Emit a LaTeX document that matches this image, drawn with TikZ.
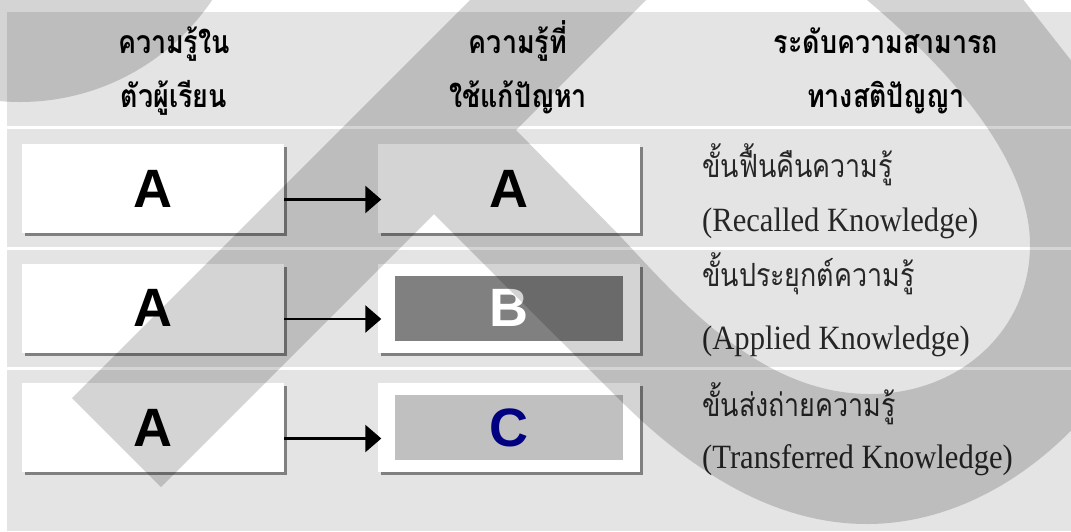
\documentclass[tikz,border=0pt]{standalone}
\usepackage{fontspec}
\usepackage{tikz}
\usetikzlibrary{arrows.meta}
\usetikzlibrary{shadows}
\newfontfamily\thaifont[Script=Thai,FakeStretch=0.84]{Loma}
\newfontfamily\engfont{Liberation Serif}[FakeStretch=0.9]
\newfontfamily\boxfont{Liberation Sans}
\definecolor{panel}{HTML}{E4E4E4}
\definecolor{shade}{HTML}{808080}
\definecolor{lightfill}{HTML}{C0C0C0}
\definecolor{navy}{HTML}{000080}
\tikzstyle{answerbox}=[rectangle, fill=white, inner sep=0pt, minimum width=262pt, minimum height=89pt, font=\boxfont\bfseries\fontsize{54}{60}\selectfont, drop shadow={shadow xshift=3pt, shadow yshift=-3pt, fill=shade, opacity=1}]
\tikzstyle{innerbox}=[rectangle, inner sep=0pt, minimum width=228pt, minimum height=65pt, font=\boxfont\bfseries\fontsize{54}{60}\selectfont]
\tikzstyle{colhead}=[inner sep=0pt, anchor=base, font=\thaifont\bfseries\fontsize{32}{36}\selectfont]
\tikzstyle{lvlthai}=[inner sep=0pt, anchor=base west, text=black!85, font=\thaifont\fontsize{32}{36}\selectfont]
\tikzstyle{lvleng}=[inner sep=0pt, anchor=base west, text=black!85, font=\engfont\fontsize{34}{40}\selectfont]
\tikzset{flow/.style={line width=2.5pt, -{Triangle[length=16pt,width=27pt]}}}

\begin{document}
\begin{tikzpicture}[x=1pt, y=-1pt]
		\useasboundingbox (0,0) rectangle (1071,531);
		\fill[white] (0,0) rectangle (1071,531);
		\fill[panel] (7,12) rectangle (1071,531);
		\foreach \y in {127.5,248,368.5}
			\draw[white, line width=3pt] (7,\y) -- (1071,\y);

		\node[colhead] (h1a) at (174,53) {ความรู้ใน};
		\node[colhead] (h1b) at (174,107) {ตัวผู้เรียน};
		\node[colhead] (h2a) at (518,53) {ความรู้ที่};
		\node[colhead] (h2b) at (518,107) {ใช้แก้ปัญหา};
		\node[colhead] (h3a) at (886,53) {ระดับความสามารถ};
		\node[colhead] (h3b) at (886,107) {ทางสติปัญญา};

		\node[answerbox] (a1) at (153,188.5) {A};
		\node[answerbox] (a2) at (153,308) {A};
		\node[answerbox] (a3) at (153,427.5) {A};
		\node[answerbox] (m1) at (508.5,188.5) {A};
		\node[answerbox] (m2) at (508.5,308) {};
		\node[answerbox] (m3) at (508.5,427.5) {};
		\node[innerbox, fill=shade, text=white] (b) at (m2) {B};
		\node[innerbox, fill=lightfill, text=navy] (c) at (m3) {C};

		\draw[flow] ([yshift=-11pt]a1.east) -- ([xshift=4pt,yshift=-11pt]m1.west);
		\draw[flow] ([yshift=-11pt]a2.east) -- ([xshift=4pt,yshift=-11pt]m2.west);
		\draw[flow] ([yshift=-11pt]a3.east) -- ([xshift=4pt,yshift=-11pt]m3.west);

		\node[lvlthai] (r1) at (702,177) {ขั้นฟื้นคืนความรู้};
		\node[lvleng] (e1) at (702,231) {(Recalled Knowledge)};
		\node[lvlthai] (r2) at (702,286) {ขั้นประยุกต์ความรู้};
		\node[lvleng] (e2) at (702,349) {(Applied Knowledge)};
		\node[lvlthai] (r3) at (702,416) {ขั้นส่งถ่ายความรู้};
		\node[lvleng] (e3) at (702,468) {(Transferred Knowledge)};

		\begin{scope}
			\clip (0,0) rectangle (1071,531);
			\fill[black, fill opacity=0.17, even odd rule]
				(20,-130) circle (232pt)
				(500,-30) -- (72,398) -- (161,487) -- (434,214) -- (625,405)
				.. controls (700,478) and (780,524) .. (867,524)
				.. controls (950,524) and (1030,480) .. (1090,410)
				-- (1110,410) -- (1110,110) -- (1000,-30) -- cycle
				(676,-30) -- (516,130) -- (620,236)
				.. controls (680,300) and (760,394) .. (870,394)
				.. controls (960,394) and (1030,330) .. (1030,245)
				.. controls (1030,160) and (950,70) .. (867,0) -- (840,-30) -- cycle;
		\end{scope}
\end{tikzpicture}
\end{document}
